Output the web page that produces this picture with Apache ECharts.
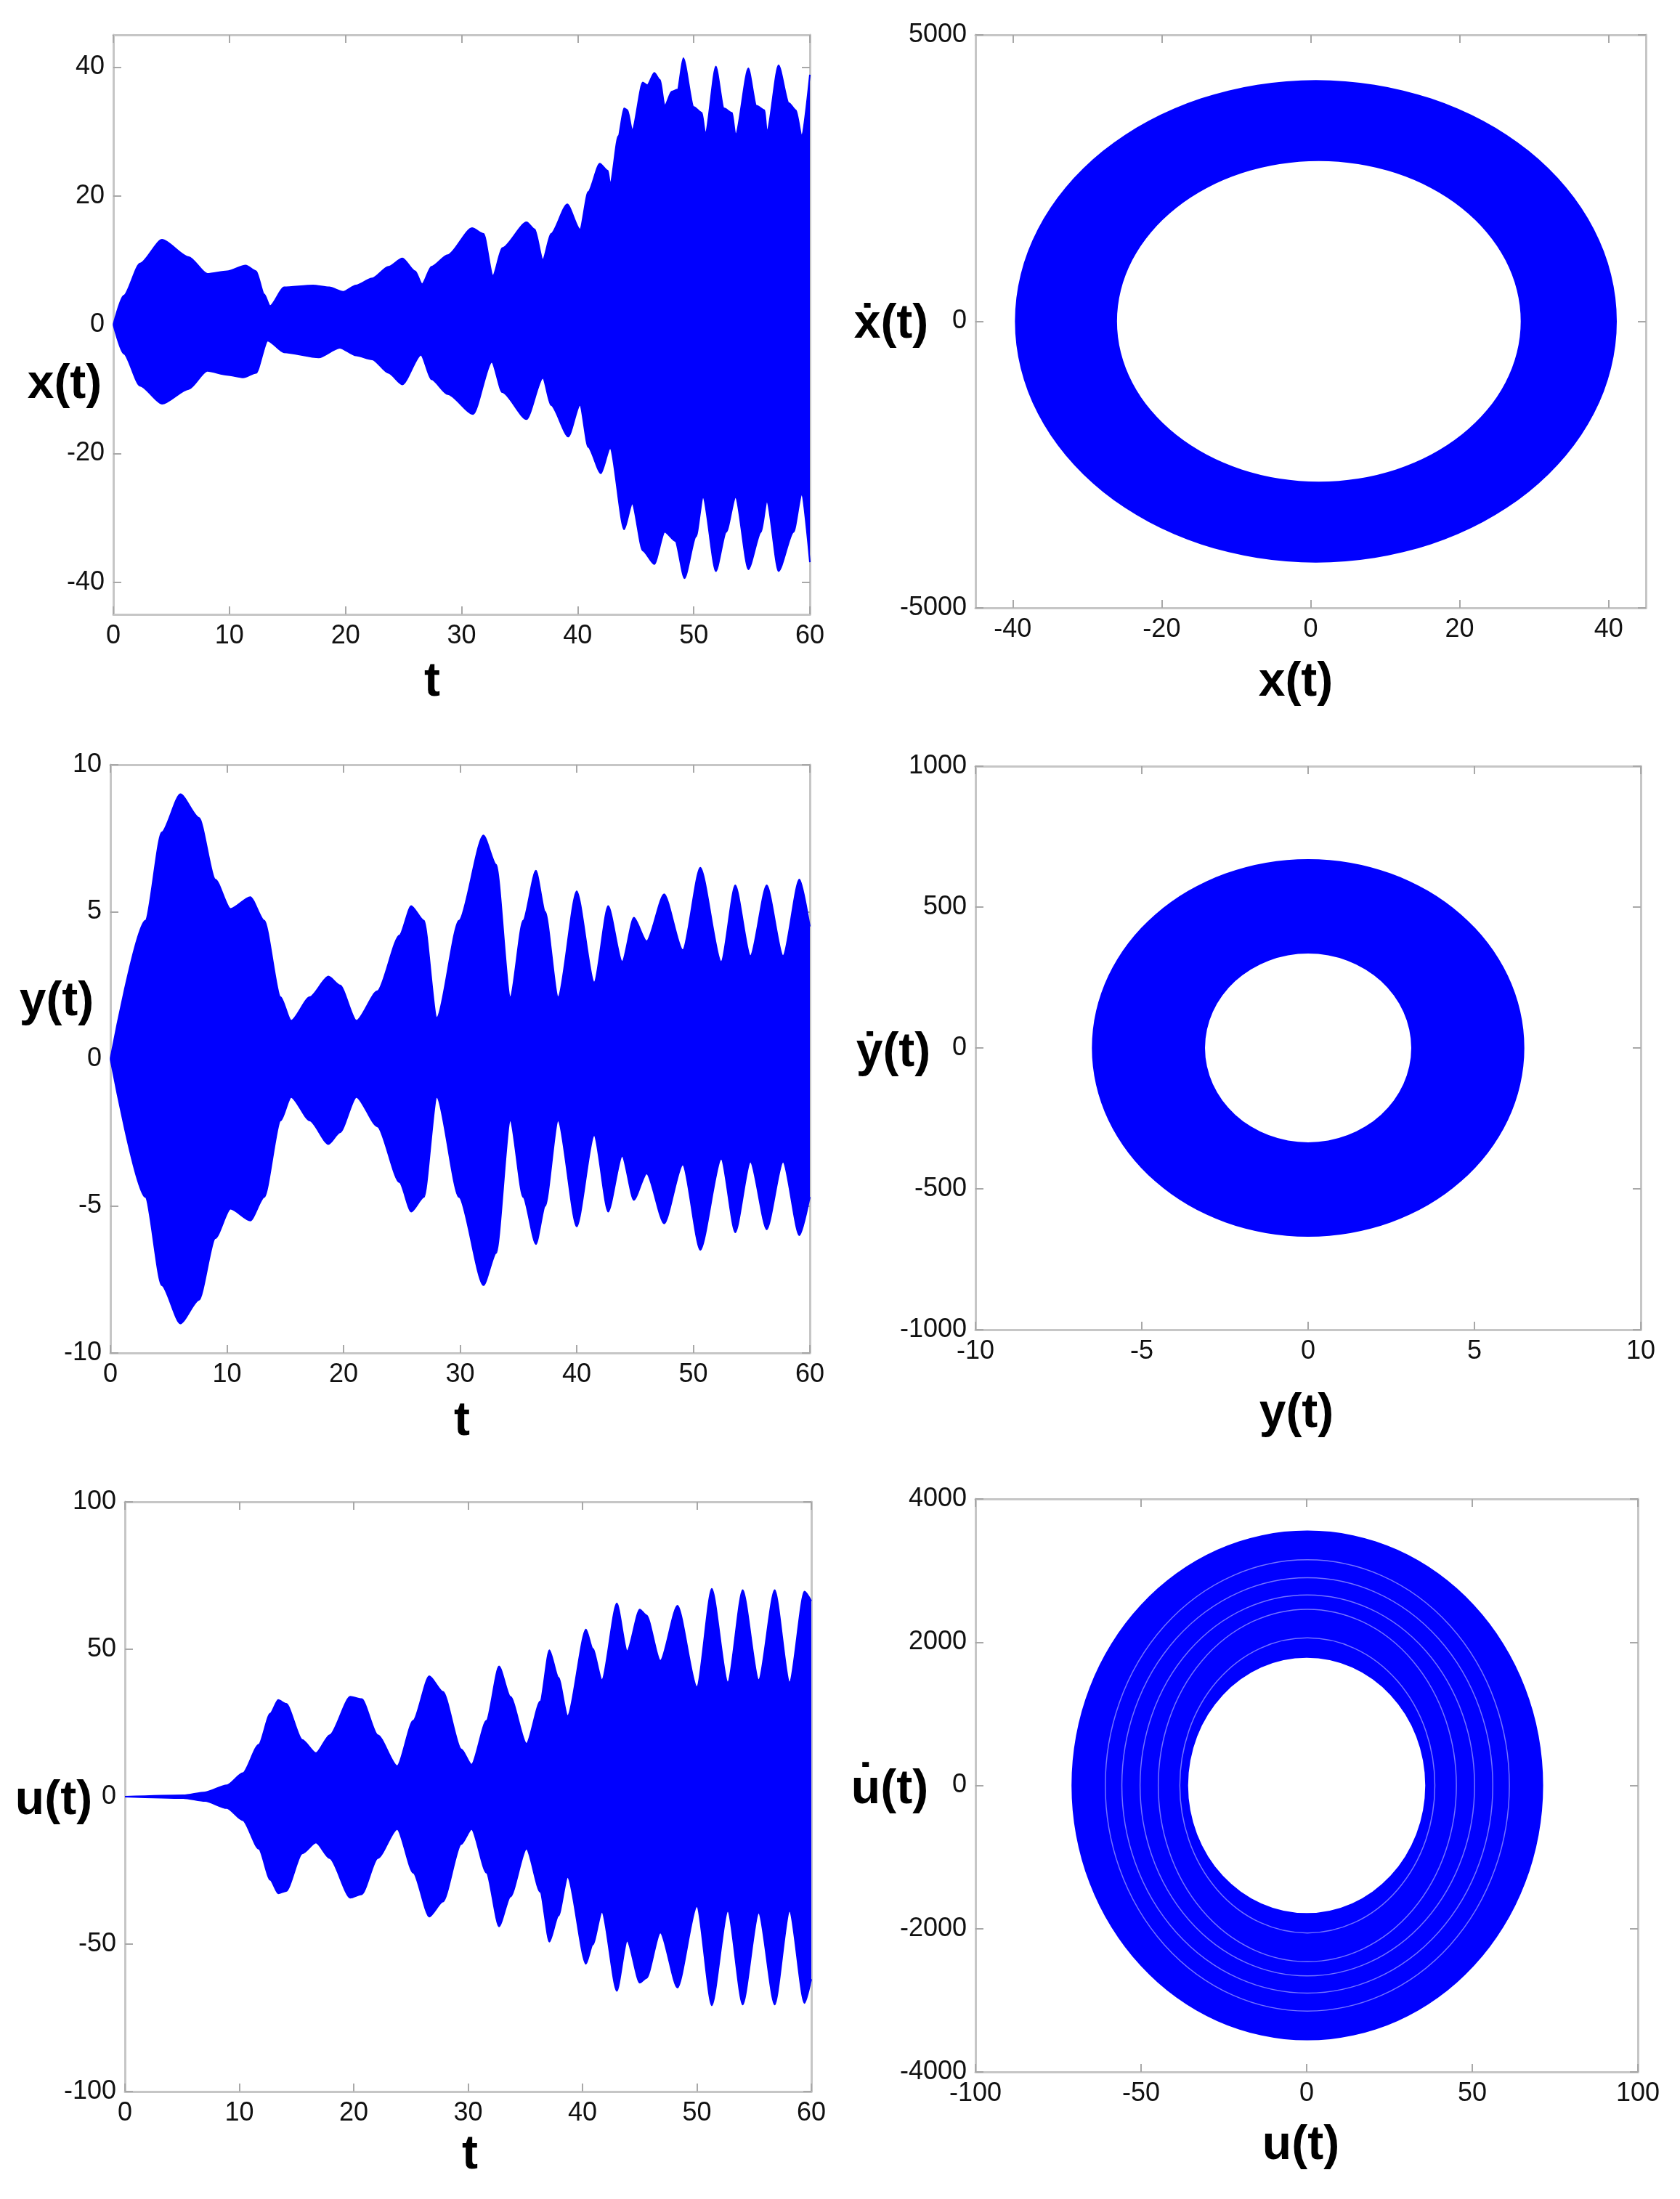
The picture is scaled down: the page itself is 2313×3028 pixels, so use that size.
<!DOCTYPE html>
<html>
<head>
<meta charset="utf-8">
<script src="https://cdn.jsdelivr.net/npm/echarts@6/dist/echarts.min.js"></script>
<style>
  html, body { margin: 0; padding: 0; background: #fff; }
  #chart { width: 2313px; height: 3028px; }
</style>
</head>
<body>
<div id="chart"></div>
<script>
// ---- data ----
// x(t) envelope
const xUpT = [0, 0.9, 2.3, 4.2, 6.5, 8.1, 9.8, 11.4, 12.3, 13.0, 13.5, 14.7, 17.2, 18.6, 19.8, 20.9, 22.3, 23.7, 24.9, 26.0, 26.6, 27.4, 28.8, 30.9, 31.9, 32.7, 33.5, 35.6, 36.3, 37.0, 37.7, 39.1, 40.2, 40.9, 41.9, 42.6, 42.8, 43.5, 44.0, 44.3, 44.7, 45.6, 46.0, 46.6, 47.1, 47.5, 48.1, 48.6, 49.1, 50.0, 50.7, 51.0, 51.9, 52.6, 53.3, 53.6, 54.7, 55.4, 56.1, 56.3, 57.3, 58.2, 58.8, 59.3, 60];
const xUpV = [0, 4.5, 9.5, 13.2, 10.5, 7.9, 8.3, 9.2, 8.3, 4.7, 2.9, 5.8, 6.1, 5.8, 5.1, 6.1, 7.2, 9.0, 10.3, 8.3, 6.3, 9.0, 10.8, 15.0, 14.1, 7.6, 11.9, 15.9, 14.8, 10.1, 14.1, 18.7, 14.8, 20.6, 25.0, 23.9, 21.9, 29.3, 33.6, 33.3, 30.2, 37.6, 37.2, 39.1, 38.0, 34.0, 36.2, 36.5, 41.4, 33.8, 32.9, 29.7, 40.1, 33.6, 32.9, 29.5, 39.8, 34.0, 33.3, 30.0, 40.3, 34.4, 33.3, 29.4, 38.8];
const xLoT = [0, 0.9, 2.3, 4.2, 6.5, 8.1, 9.8, 11.2, 12.3, 13.3, 14.7, 17.7, 19.5, 20.9, 22.3, 23.7, 24.9, 26.5, 27.4, 28.8, 31.0, 32.6, 33.5, 35.6, 37.0, 37.7, 39.2, 40.2, 40.9, 42.0, 42.8, 44.0, 44.7, 45.6, 46.6, 47.5, 48.4, 49.2, 50.2, 50.8, 51.9, 52.8, 53.6, 54.7, 55.8, 56.3, 57.3, 58.6, 59.3, 60];
const xLoV = [0, -4.5, -9.5, -12.3, -10.0, -7.2, -7.8, -8.2, -7.5, -2.5, -4.3, -5.1, -3.6, -4.8, -5.4, -7.5, -9.3, -4.7, -8.5, -10.8, -13.9, -5.8, -10.5, -14.7, -8.3, -12.5, -17.4, -12.5, -19.0, -23.1, -19.2, -31.8, -27.8, -35.1, -37.2, -32.2, -33.6, -39.4, -32.9, -26.8, -38.3, -32.2, -26.8, -38.0, -32.2, -27.5, -38.3, -32.2, -26.4, -36.9];

// y(t) envelope
const yT = [0, 3.0, 4.4, 6.0, 7.6, 9.0, 10.3, 12.0, 13.2, 14.6, 15.5, 17.1, 18.7, 19.7, 21.1, 22.9, 24.8, 25.8, 26.9, 28.0, 29.9, 32.0, 33.1, 34.3, 35.4, 36.5, 37.3, 38.4, 40.0, 41.5, 42.7, 43.9, 44.9, 46.0, 47.5, 49.1, 50.6, 52.4, 53.6, 54.9, 56.3, 57.7, 59.1, 60];
const yUpV = [0, 4.7, 7.7, 9.0, 8.2, 6.1, 5.1, 5.5, 4.7, 2.1, 1.3, 2.1, 2.8, 2.5, 1.3, 2.3, 4.2, 5.2, 4.7, 1.4, 4.7, 7.6, 6.6, 2.1, 4.7, 6.4, 5.0, 2.1, 5.7, 2.6, 5.2, 3.3, 4.8, 4.0, 5.6, 3.7, 6.5, 3.3, 5.9, 3.5, 5.9, 3.5, 6.1, 4.5];
const yLoV = [0, -4.7, -7.7, -9.0, -8.2, -6.1, -5.1, -5.5, -4.7, -2.1, -1.3, -2.1, -2.9, -2.5, -1.3, -2.3, -4.2, -5.2, -4.7, -1.3, -4.7, -7.7, -6.6, -2.1, -4.7, -6.3, -5.0, -2.1, -5.7, -2.6, -5.2, -3.3, -4.8, -3.9, -5.6, -3.6, -6.5, -3.4, -5.9, -3.5, -5.8, -3.5, -6.0, -4.7];

// u(t) envelope
const uT = [0, 5.1, 7.0, 8.9, 10.3, 11.7, 12.7, 13.4, 14.1, 15.5, 16.7, 17.9, 19.7, 20.7, 22.1, 23.8, 25.2, 26.6, 27.8, 29.4, 30.3, 31.6, 32.7, 33.7, 35.1, 36.3, 37.1, 37.9, 38.7, 40.3, 40.9, 41.7, 43.0, 43.9, 45.0, 45.6, 46.8, 48.3, 50.0, 51.3, 52.7, 54.0, 55.4, 56.8, 58.1, 59.4, 60];
const uUpV = [0, 0.5, 1.5, 3.9, 8, 17.7, 28.2, 32.8, 31.5, 19.3, 14.8, 20.9, 33.9, 33.1, 20.9, 10.4, 25.8, 40.9, 35.6, 16.1, 10.9, 25.8, 44.2, 33.9, 18.0, 32.3, 49.7, 40.4, 27.4, 56.7, 50.2, 39.6, 65.6, 49.4, 63.5, 61.5, 46.1, 64.8, 37.2, 70.5, 38.8, 70.1, 39.6, 70.1, 38.8, 69.6, 66.4];
const uLoV = [0, -0.5, -1.5, -3.9, -8, -17.7, -28.2, -32.8, -32.0, -19.3, -15.6, -20.9, -34.3, -33.1, -20.9, -11.0, -25.8, -40.7, -35.6, -16.1, -11.0, -25.8, -44.0, -33.9, -17.7, -32.3, -49.2, -40.4, -27.3, -56.7, -50.2, -39.1, -65.9, -48.9, -63.1, -61.5, -46.1, -64.8, -37.2, -70.8, -38.8, -70.5, -39.4, -70.5, -38.8, -70.0, -61.9];

// phase portraits: ring = outer ellipse [cx, cy, a, b] minus inner ellipse [cx, cy, a, b]
const xRingOuter = [0.7, 0, 40.4, 4210];
const xRingInner = [1.1, 0, 27.1, 2797];
const yRingOuter = [0, 0, 6.5, 670];
const yRingInner = [0, 0, 3.1, 335];
const uRingOuter = [0.2, 0, 71.2, 3560];
const uRingInner = [0, 0, 35.8, 1783];
// thin light gaps inside the u ring [a, b]
const uRingGaps = [[38.5, 2060], [45, 2460], [50.5, 2660], [56, 2900], [61, 3150]];

// tick labels
const tTicks = [0, 10, 20, 30, 40, 50, 60];
const xTicks = [-40, -20, 0, 20, 40];
const xDotTicks = [-5000, 0, 5000];
const yTicks = [-10, -5, 0, 5, 10];
const yDotTicks = [-1000, -500, 0, 500, 1000];
const uTicks = [-100, -50, 0, 50, 100];
const uDotTicks = [-4000, -2000, 0, 2000, 4000];

// ---- chart ----
const BLUE = '#0000ff';
const FRAME = '#c6c6c6';
const TICKC = '#a8a8a8';
const FONT = '"Liberation Sans", Arial, Helvetica, sans-serif';

const chart = echarts.init(document.getElementById('chart'), null, { renderer: 'canvas' });

const grids = [
  { left: 156, top: 48, width: 959, height: 798 },
  { left: 1343, top: 48, width: 923, height: 789 },
  { left: 152, top: 1053, width: 963, height: 810 },
  { left: 1343, top: 1055, width: 916, height: 776 },
  { left: 172, top: 2068, width: 945, height: 812 },
  { left: 1343, top: 2064, width: 912, height: 789 }
].map(g => Object.assign({ containLabel: false, outerBoundsMode: 'none' }, g));

function axis(gridIndex, position, min, max, ticks, labels) {
  return {
    type: 'value', gridIndex, position, min, max,
    axisLine: { show: true, onZero: false, lineStyle: { color: FRAME, width: 3 } },
    axisTick: { show: true, inside: true, length: 11, customValues: ticks, lineStyle: { color: TICKC, width: 2 } },
    axisLabel: {
      show: labels, customValues: ticks, fontSize: 36, color: '#111', margin: 12, fontFamily: FONT,
      formatter: v => String(v)
    },
    splitLine: { show: false }
  };
}

// [xMin, xMax, xTicks, yMin, yMax, yTicks] per panel
const ranges = [
  [0, 60, tTicks, -45, 45, xTicks],
  [-45, 45, xTicks, -5000, 5000, xDotTicks],
  [0, 60, tTicks, -10, 10, yTicks],
  [-10, 10, [-10, -5, 0, 5, 10], -1000, 1000, yDotTicks],
  [0, 60, tTicks, -100, 100, uTicks],
  [-100, 100, uTicks, -4000, 4000, uDotTicks]
];

const xAxes = [], yAxes = [];
ranges.forEach((r, g) => {
  xAxes.push(axis(g, 'bottom', r[0], r[1], r[2], true));
  xAxes.push(axis(g, 'top', r[0], r[1], r[2], false));
  yAxes.push(axis(g, 'left', r[3], r[4], r[5], true));
  yAxes.push(axis(g, 'right', r[3], r[4], r[5], false));
});

const zip = (a, b) => a.map((v, i) => [v, b[i]]);

function envelope(g, T, V) {
  return {
    type: 'line', xAxisIndex: 2 * g, yAxisIndex: 2 * g,
    data: zip(T, V), showSymbol: false, smooth: 0.25, smoothMonotone: 'x',
    lineStyle: { color: BLUE, width: 2 },
    areaStyle: { color: BLUE, opacity: 1, origin: 'auto' },
    silent: true, animation: false
  };
}

function ellipsePath(cx, cy, rx, ry, sweep) {
  return 'M' + (cx - rx) + ',' + cy +
    ' A' + rx + ',' + ry + ' 0 1 ' + sweep + ' ' + (cx + rx) + ',' + cy +
    ' A' + rx + ',' + ry + ' 0 1 ' + sweep + ' ' + (cx - rx) + ',' + cy + ' Z';
}

function ring(g, outer, inner, gaps) {
  return {
    type: 'custom', xAxisIndex: 2 * g, yAxisIndex: 2 * g,
    data: [outer.concat(inner)],
    silent: true, animation: false,
    renderItem: function (params, api) {
      const c = api.coord([api.value(0), api.value(1)]);
      const s = api.size([api.value(2), api.value(3)], [api.value(0), api.value(1)]);
      const h = api.coord([api.value(4), api.value(5)]);
      const hs = api.size([api.value(6), api.value(7)], [api.value(4), api.value(5)]);
      const children = [{
        type: 'path',
        shape: { pathData: ellipsePath(c[0], c[1], s[0], s[1], 1) + ' ' + ellipsePath(h[0], h[1], hs[0], hs[1], 0) },
        style: { fill: BLUE }
      }];
      (gaps || []).forEach(function (gp) {
        const gs = api.size(gp, [0, 0]);
        children.push({
          type: 'path',
          shape: { pathData: ellipsePath(c[0], c[1], gs[0], gs[1], 1) },
          style: { fill: 'none', stroke: '#ffffff', lineWidth: 1.5, opacity: 0.45 }
        });
      });
      return { type: 'group', children: children };
    }
  };
}

const series = [
  envelope(0, xUpT, xUpV), envelope(0, xLoT, xLoV),
  ring(1, xRingOuter, xRingInner),
  envelope(2, yT, yUpV), envelope(2, yT, yLoV),
  ring(3, yRingOuter, yRingInner),
  envelope(4, uT, uUpV), envelope(4, uT, uLoV),
  ring(5, uRingOuter, uRingInner, uRingGaps)
];

const names = [
  ['x(t)', 89, 530], ['t', 595, 940],
  ['\u1E8B(t)', 1227, 447], ['x(t)', 1784, 940],
  ['y(t)', 78, 1380], ['t', 636, 1958],
  ['\u1E8F(t)', 1230, 1450], ['y(t)', 1785, 1947],
  ['u(t)', 74, 2480], ['t', 647, 2968],
  ['u\u0307(t)', 1225, 2465], ['u(t)', 1791, 2955]
];

chart.setOption({
  backgroundColor: '#ffffff',
  animation: false,
  grid: grids,
  xAxis: xAxes,
  yAxis: yAxes,
  series: series,
  graphic: names.map(n => ({
    type: 'text', x: n[1], y: n[2], silent: true,
    style: { text: n[0], fill: '#000', font: 'bold 66px ' + FONT, align: 'center', verticalAlign: 'middle' }
  }))
});
</script>
</body>
</html>
